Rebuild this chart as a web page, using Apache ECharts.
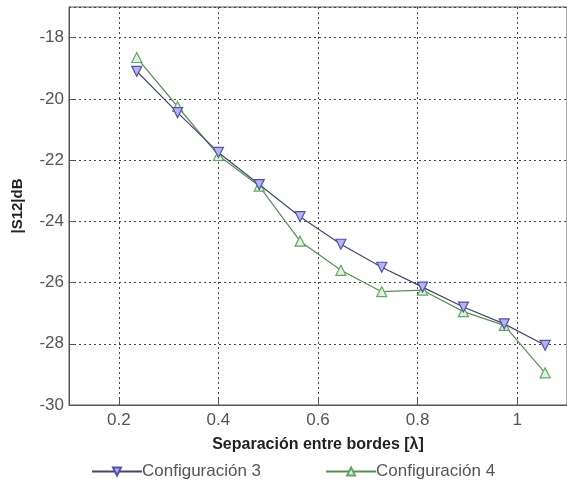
<!DOCTYPE html>
<html>
<head>
<meta charset="utf-8">
<script src="https://cdn.jsdelivr.net/npm/echarts@6/dist/echarts.min.js"></script>
<style>
  html, body { margin: 0; padding: 0; background: #fff; }
  #chart { width: 567px; height: 491px; }
</style>
</head>
<body>
<div id="chart"></div>
<script>
    // separación entre bordes [lambda]
    var separacion = [0.236, 0.318, 0.400, 0.482, 0.564, 0.646, 0.728, 0.810, 0.892, 0.974, 1.056];
    // |S12| en dB
    var config3 = [-19.1, -20.45, -21.75, -22.8, -23.85, -24.75, -25.5, -26.15, -26.8, -27.35, -28.05];
    var config4 = [-18.65, -20.25, -21.85, -22.85, -24.65, -25.6, -26.3, -26.25, -26.95, -27.4, -28.95];
    var seriesNames = ['Configuración 3', 'Configuración 4'];

    function pares(xs, ys) {
        return xs.map(function (x, i) { return [x, ys[i]]; });
    }

    var fuente = 'Liberation Sans, Arial, sans-serif';
    var grillaPunteada = { show: true, lineStyle: { color: '#444', type: [2, 3], width: 1 } };

    var myChart = echarts.init(document.getElementById('chart'));
    myChart.setOption({
        animation: false,
        backgroundColor: '#fff',
        grid: {
            left: 69, top: 7, right: -8, bottom: 86,
            show: true, borderColor: '#555', borderWidth: 1, backgroundColor: 'transparent'
        },
        legend: {
            bottom: 6,
            left: 86,
            itemWidth: 50,
            itemHeight: 10,
            itemGap: 64,
            textStyle: { fontFamily: fuente, fontSize: 17, color: '#555', padding: [0, 0, 0, -5] },
            data: seriesNames
        },
        xAxis: {
            type: 'value',
            min: 0.1,
            max: 1.1,
            name: 'Separación entre bordes [λ]',
            nameLocation: 'middle',
            nameGap: 32,
            nameTextStyle: { fontFamily: fuente, fontSize: 16, fontWeight: 'bold', color: '#222' },
            axisLine: { show: true, lineStyle: { color: '#555' } },
            axisTick: { show: true, inside: true, length: 6, lineStyle: { color: '#555' } },
            axisLabel: {
                showMinLabel: false, showMaxLabel: false,
                margin: 7,
                fontFamily: fuente, fontSize: 17, color: '#555'
            },
            splitLine: grillaPunteada
        },
        yAxis: {
            type: 'value',
            min: -30,
            max: -17,
            interval: 2,
            name: '|S12|dB',
            nameLocation: 'middle',
            nameGap: 44,
            nameTextStyle: { fontFamily: fuente, fontSize: 15, fontWeight: 'bold', color: '#222' },
            axisLine: { show: true, lineStyle: { color: '#555' } },
            axisTick: { show: true, inside: true, length: 6, lineStyle: { color: '#555' } },
            axisLabel: {
                showMaxLabel: false,
                margin: 5,
                fontFamily: fuente, fontSize: 17, color: '#555'
            },
            splitLine: grillaPunteada
        },
        series: [
            {
                name: seriesNames[0],
                type: 'line',
                data: pares(separacion, config3),
                symbol: 'triangle',
                symbolRotate: 180,
                symbolSize: 10,
                lineStyle: { color: '#45456e', width: 1.2 },
                itemStyle: { color: '#b4b4f0', borderColor: '#5252a8', borderWidth: 1.2 },
                z: 3
            },
            {
                name: seriesNames[1],
                type: 'line',
                data: pares(separacion, config4),
                symbol: 'triangle',
                symbolSize: 10,
                lineStyle: { color: '#5a8c5a', width: 1.2 },
                itemStyle: { color: '#e2f2e2', borderColor: '#64a464', borderWidth: 1.2 },
                z: 2
            }
        ]
    });
</script>
</body>
</html>
